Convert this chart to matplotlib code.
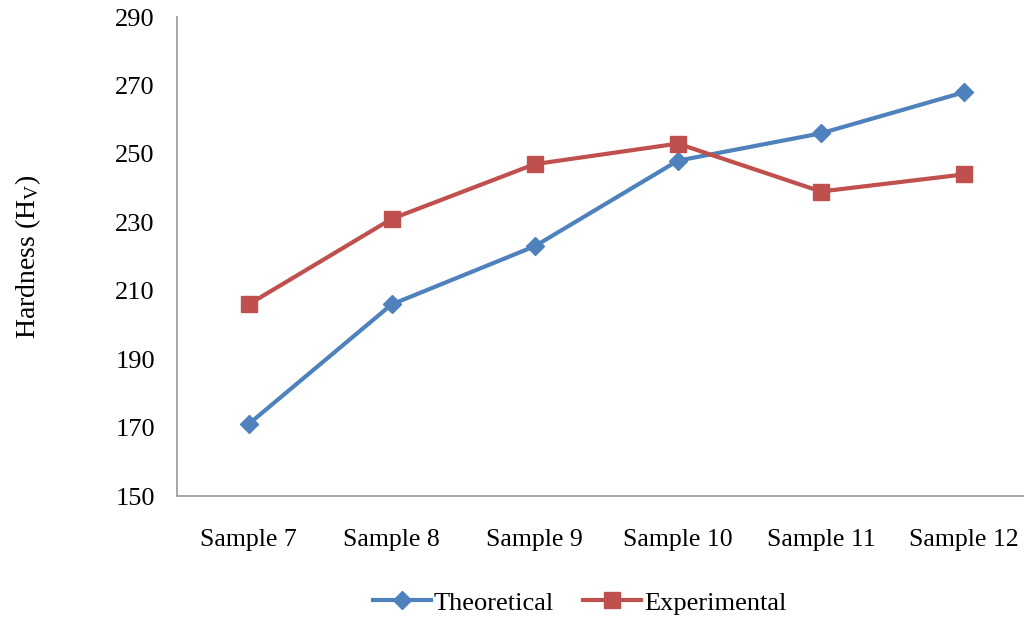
import numpy as np
import matplotlib
matplotlib.use("Agg")
from matplotlib import pyplot as plt

# データ
samples = ["Sample 7", "Sample 8", "Sample 9", "Sample 10", "Sample 11", "Sample 12"]
theoretical = [171, 206, 223, 248, 256, 268]
experimental = [206, 231, 247, 253, 239, 244]

plt.rcParams['font.family'] = ['Liberation Serif', 'DejaVu Serif']
plt.rcParams['mathtext.fontset'] = 'custom'
plt.rcParams['mathtext.rm'] = 'Liberation Serif'
plt.rcParams['mathtext.it'] = 'Liberation Serif'

fig = plt.figure(figsize=(10.24, 6.19), dpi=100)
ax = fig.add_axes([0.1729, 0.1987, 0.8383, 0.7738])

x = np.arange(len(samples))
ax.plot(x, theoretical, color='#4F81BD', lw=3, marker='D', ms=9,
        label='Theoretical')
ax.plot(x, experimental, color='#C0504D', lw=3, marker='s', ms=12,
        label='Experimental')

ax.set_xlim(-0.5, len(samples) - 0.5)
ax.set_ylim(150, 290)
ax.set_yticks(np.arange(150, 291, 20))
ax.set_xticks(x)
ax.set_xticklabels(samples)
ax.tick_params(axis='y', length=0, labelsize=19, pad=16)
ax.tick_params(axis='x', length=0, labelsize=18.5, pad=24)

for s in ['top', 'right']:
    ax.spines[s].set_visible(False)
for s in ['left', 'bottom']:
    ax.spines[s].set_color('#A0A0A0')
    ax.spines[s].set_linewidth(1.3)

ax.set_ylabel(r'Hardness (H$_\mathrm{V}$)', fontsize=20, labelpad=52)

fig.legend(loc='center', bbox_to_anchor=(0.566, 0.026), ncol=2, frameon=False,
           fontsize=19, handlelength=2.2, columnspacing=1.1, handletextpad=0.1)

fig.savefig('out.png', dpi=100)
